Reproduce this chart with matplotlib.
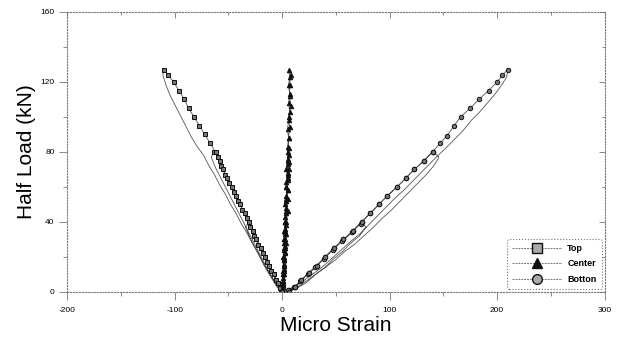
import numpy as np
import matplotlib.pyplot as plt

plt.rcParams['font.family'] = ['Liberation Sans', 'DejaVu Sans']
plt.rcParams['axes.unicode_minus'] = False

# Top gauge (compression side): loading / unloading legs, cycles to ~40, ~80, ~127 kN
top_up1_x = [0, -4, -8, -12, -16, -20, -24, -27, -31]
top_up1_y = [0, 5, 10, 15, 20, 25, 30, 35, 40]
top_dn1_x = [-34, -30, -25, -20, -15, -10, -5, -1]
top_dn1_y = [37, 31, 25, 19, 13, 8, 3, 0]
top_up2_x = [-2, -6, -10, -14, -18, -22, -26, -30, -33, -37, -41, -45, -49, -53, -57, -60, -63]
top_up2_y = [2, 7, 12, 17, 22, 27, 32, 37, 42, 47, 52, 57, 62, 67, 72, 77, 80]
top_dn2_x = [-66, -62, -57, -52, -47, -42, -37, -32, -27, -22, -17, -12, -7, -2]
top_dn2_y = [77, 71, 65, 59, 53, 47, 41, 35, 29, 23, 17, 11, 6, 1]
top_up3_x = [-1, -4, -8, -12, -16, -20, -24, -27, -31, -35, -39, -43, -47, -51, -55, -58,
             -62, -67, -72, -77, -82, -87, -91, -96, -101, -106, -110]
top_up3_y = [0, 5, 10, 15, 20, 25, 30, 35, 40, 45, 50, 55, 60, 65, 70, 75,
             80, 85, 90, 95, 100, 105, 110, 115, 120, 124, 127]
top_dn3_x = [-111, -108, -104, -99, -94, -89, -84, -79, -73, -68, -63, -58, -53, -48, -43,
             -38, -33, -28, -23, -18, -13, -8, -3, 0]
top_dn3_y = [124, 118, 112, 106, 100, 94, 88, 83, 78, 72, 67, 61, 56, 50, 45,
             39, 34, 28, 23, 17, 12, 7, 2, 0]

# Center gauge (near neutral axis)
center_up1_x = [0, 1, 1, 2, 1, 2, 3, 2, 3]
center_up1_y = [0, 5, 10, 15, 20, 25, 30, 35, 40]
center_dn1_x = [3, 2, 2, 2, 1, 1, 0]
center_dn1_y = [36, 30, 24, 18, 12, 6, 1]
center_up2_x = [1, 1, 2, 2, 3, 2, 3, 3, 4, 3, 4, 4, 5, 4, 5, 5]
center_up2_y = [4, 10, 15, 20, 25, 30, 35, 40, 45, 50, 55, 60, 65, 70, 75, 80]
center_dn2_x = [6, 5, 4, 5, 4, 3, 4, 3, 2, 2, 1, 1]
center_dn2_y = [74, 67, 60, 53, 46, 40, 33, 26, 19, 12, 6, 1]
center_up3_x = [1, 1, 2, 2, 3, 2, 3, 4, 3, 4, 4, 5, 4, 5, 5, 6, 5, 6, 5, 6, 7, 6, 7, 6, 7, 6]
center_up3_y = [3, 8, 13, 18, 23, 28, 33, 38, 43, 48, 53, 58, 63, 68, 73, 78, 83, 88,
                93, 98, 103, 108, 113, 118, 123, 127]
center_dn3_x = [8, 7, 7, 8, 6, 7, 6, 6, 5, 6, 5, 5, 4, 5, 4, 3, 4, 3, 2, 2, 1, 0]
center_dn3_y = [124, 118, 112, 106, 100, 94, 88, 82, 76, 70, 64, 58, 52, 46, 40, 34,
                28, 22, 16, 10, 4, 0]

# Bottom gauge (tension side)
bot_up1_x = [0, 6, 12, 18, 25, 32, 40, 48, 57, 66, 74]
bot_up1_y = [0, 1, 3, 7, 11, 15, 20, 25, 30, 35, 40]
bot_dn1_x = [78, 72, 64, 56, 48, 40, 31, 22, 13, 5]
bot_dn1_y = [37, 32, 28, 23, 19, 14, 10, 5, 2, 0]
bot_up2_x = [5, 11, 17, 24, 31, 39, 47, 56, 65, 73, 82, 90, 98, 107, 115, 123, 132, 140]
bot_up2_y = [1, 3, 6, 10, 14, 19, 24, 29, 34, 39, 45, 50, 55, 60, 65, 70, 75, 80]
bot_dn2_x = [146, 141, 134, 126, 118, 110, 102, 93, 85, 76, 67, 58, 49, 40, 31, 22, 13, 5]
bot_dn2_y = [77, 72, 67, 62, 57, 52, 47, 42, 37, 32, 27, 23, 18, 14, 10, 6, 2, 0]
bot_up3_x = [6, 12, 18, 25, 32, 40, 48, 57, 66, 74, 82, 90, 98, 107, 115, 123, 132, 140,
             147, 153, 160, 166, 175, 183, 192, 200, 205, 210]
bot_up3_y = [0, 3, 7, 11, 15, 20, 25, 30, 35, 40, 45, 50, 55, 60, 65, 70, 75, 80,
             85, 89, 95, 100, 105, 110, 115, 120, 124, 127]
bot_dn3_x = [209, 204, 198, 191, 184, 176, 168, 160, 152, 145, 137, 129, 121, 113, 104,
             96, 88, 80, 72, 64, 55, 46, 37, 28, 19, 11, 4]
bot_dn3_y = [123, 118, 113, 108, 103, 98, 92, 87, 82, 78, 73, 68, 63, 58, 53,
             48, 43, 38, 33, 29, 24, 19, 14, 10, 6, 2, 0]

x_major = [-200, -100, 0, 100, 200, 300]
y_major = [0, 40, 80, 120, 160]

series = [
    ('Top', 's', '#777777',
     [(top_up1_x, top_up1_y, True), (top_dn1_x, top_dn1_y, False),
      (top_up2_x, top_up2_y, True), (top_dn2_x, top_dn2_y, False),
      (top_up3_x, top_up3_y, True), (top_dn3_x, top_dn3_y, False)]),
    ('Center', '^', '#111111',
     [(center_up1_x, center_up1_y, True), (center_dn1_x, center_dn1_y, True),
      (center_up2_x, center_up2_y, True), (center_dn2_x, center_dn2_y, True),
      (center_up3_x, center_up3_y, True), (center_dn3_x, center_dn3_y, True)]),
    ('Botton', 'o', '#777777',
     [(bot_up1_x, bot_up1_y, True), (bot_dn1_x, bot_dn1_y, False),
      (bot_up2_x, bot_up2_y, True), (bot_dn2_x, bot_dn2_y, False),
      (bot_up3_x, bot_up3_y, True), (bot_dn3_x, bot_dn3_y, False)]),
]

fig = plt.figure(figsize=(6.22, 3.41), dpi=100)
ax = fig.add_axes([0.108, 0.144, 0.864, 0.821])

for name, mk, fc, legs in series:
    xs = np.concatenate([np.array(l[0], float) for l in legs])
    ys = np.concatenate([np.array(l[1], float) for l in legs])
    mask = np.concatenate([np.full(len(l[0]), l[2]) for l in legs])
    ax.plot(xs, ys, color='#555555', lw=0.6, marker=mk, ms=3.2, markevery=list(mask),
            mfc=fc, mec='#111111', mew=0.7)
    # legend proxy with dashed gray line
    ax.plot([], [], color='#777777', lw=0.7, ls=(0, (2, 1)), marker=mk, ms=7,
            mfc='#aaaaaa' if mk != '^' else fc, mec='#111111', mew=1.0, label=name)

ax.set_xlim(-200, 300)
ax.set_ylim(0, 160)
ax.set_xticks(x_major)
ax.set_yticks(y_major)
ax.set_xticks(np.arange(-200, 301, 50), minor=True)
ax.set_yticks(np.arange(0, 161, 20), minor=True)
ax.tick_params(which='both', direction='out', colors='#777777',
               labelcolor='black', labelsize=6, width=0.6)
ax.tick_params(which='major', length=6)
ax.tick_params(which='minor', length=3)
ax.tick_params(axis='x', pad=5)
ax.tick_params(axis='y', pad=3)
for s in ax.spines.values():
    s.set_linestyle(':')
    s.set_color('#777777')
    s.set_linewidth(0.8)

# inward ticks on top and right
top = ax.secondary_xaxis('top')
top.set_xticks(x_major)
top.set_xticks(np.arange(-200, 301, 50), minor=True)
top.tick_params(which='both', direction='in', colors='#777777', labeltop=False,
                width=0.6, length=4)
top.tick_params(which='minor', length=2)
top.spines['top'].set_visible(False)
rgt = ax.secondary_yaxis('right')
rgt.set_yticks(y_major)
rgt.set_yticks(np.arange(0, 161, 20), minor=True)
rgt.tick_params(which='both', direction='in', colors='#777777', labelright=False,
                width=0.6, length=4)
rgt.tick_params(which='minor', length=2)
rgt.spines['right'].set_visible(False)

ax.set_xlabel('Micro Strain', fontsize=15, labelpad=1)
ax.set_ylabel('Half Load (kN)', fontsize=15, labelpad=3)

leg = ax.legend(loc='lower right', fontsize=6.5, handlelength=5.5, borderaxespad=0.3,
                fancybox=True, framealpha=1, edgecolor='#777777', borderpad=0.6,
                labelspacing=0.7, handletextpad=0.6)
leg.get_frame().set_linestyle(':')
leg.get_frame().set_linewidth(0.8)
for t in leg.get_texts():
    t.set_fontweight('bold')

fig.savefig('out.png', dpi=100)
